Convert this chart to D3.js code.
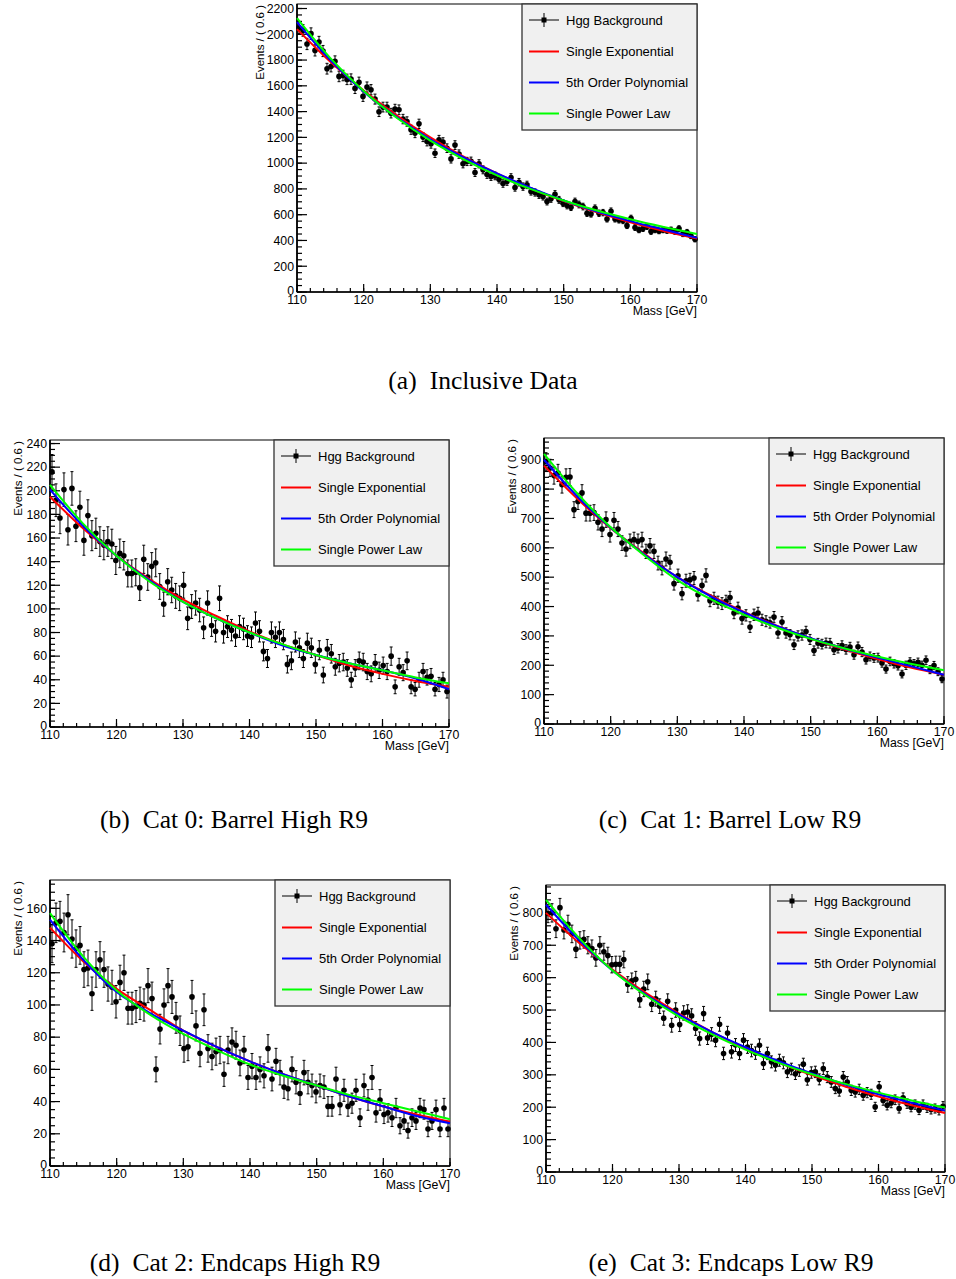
<!DOCTYPE html>
<html>
<head>
<meta charset="utf-8">
<script src="https://cdn.jsdelivr.net/npm/d3@7/dist/d3.min.js"></script>
<style>
  body { margin: 0; background: #fff; }
  svg { display: block; }
  .sans { font-family: 'Liberation Sans', Arial, Helvetica, sans-serif; fill: #000; }
  .serif { font-family: 'Liberation Serif', 'Times New Roman', serif; fill: #000; }
</style>
</head>
<body>
<div id="chart"></div>
<script>
// binning of the diphoton mass histograms
const MASS_MIN = 110;
const MASS_MAX = 170;
const BIN_WIDTH = 0.6;

const legend_labels = ['Hgg Background', 'Single Exponential', '5th Order Polynomial', 'Single Power Law'];
const fit_colors = ['#ff0000', '#0000ff', '#00ff00'];

const fit_mass = [110, 115, 120, 125, 130, 135, 140, 145, 150, 155, 160, 165, 170];

// (a) inclusive
const incl_events = [
  2050, 2030, 1925, 2005, 1875, 1940, 1870, 1733, 1750, 1790,
  1673, 1680, 1650, 1652, 1580, 1627, 1518, 1590, 1570, 1497,
  1399, 1435, 1435, 1388, 1419, 1414, 1342, 1323, 1259, 1233,
  1305, 1202, 1168, 1150, 1077, 1181, 1163, 1116, 1033, 1140,
  1070, 995, 1013, 1015, 927, 995, 948, 912, 896, 901,
  875, 842, 857, 888, 811, 852, 818, 831, 780, 772,
  754, 741, 702, 723, 759, 715, 689, 671, 658, 702,
  679, 663, 611, 606, 650, 611, 616, 567, 627, 567,
  559, 554, 515, 572, 500, 482, 492, 508, 469, 482,
  474, 482, 477, 482, 469, 492, 451, 464, 435, 409
];
const incl_exp = [2040, 1786, 1564, 1370, 1200, 1050, 920, 805, 705, 618, 541, 474, 415];
const incl_poly = [2095, 1800, 1555, 1355, 1185, 1045, 920, 810, 710, 625, 550, 485, 420];
const incl_pow = [2125, 1815, 1560, 1350, 1175, 1030, 905, 800, 710, 632, 565, 505, 450];

// (b) cat 0
const cat0_events = [
  216, 192, 177, 201, 167, 202, 170, 186, 158, 179,
  162, 164, 157, 154, 157, 155, 141, 147, 145, 130,
  130, 131, 118, 142, 127, 136, 139, 119, 104, 123,
  116, 111, 109, 120, 92, 102, 105, 99, 84, 105,
  86, 81, 109, 80, 85, 82, 77, 85, 83, 77,
  76, 88, 81, 64, 58, 80, 76, 80, 74, 53,
  56, 72, 67, 58, 71, 67, 53, 65, 44, 66,
  62, 51, 54, 55, 50, 40, 50, 56, 55, 47,
  45, 54, 48, 52, 47, 60, 34, 51, 46, 56,
  34, 32, 40, 47, 42, 43, 32, 36, 40, 30
];
const cat0_exp = [195, 168, 145, 125, 108, 94, 81, 70, 61, 52, 45, 39, 34];
const cat0_poly = [201, 170, 145, 124, 106, 92, 80, 69, 61, 54, 48, 41, 32];
const cat0_pow = [205, 172, 145, 123, 106, 92, 80, 70, 61, 54, 48, 42, 37];

// (c) cat 1
const cat1_events = [
  894, 872, 846, 855, 815, 840, 841, 730, 758, 787,
  718, 718, 720, 687, 664, 696, 645, 694, 664, 616,
  596, 622, 628, 622, 628, 588, 607, 588, 548, 531,
  562, 551, 478, 505, 444, 488, 491, 497, 440, 472,
  506, 420, 428, 415, 410, 418, 431, 378, 395, 359,
  370, 330, 372, 378, 355, 350, 345, 364, 310, 347,
  310, 304, 270, 300, 303, 315, 288, 250, 275, 272,
  276, 275, 253, 258, 267, 254, 262, 236, 263, 245,
  219, 230, 225, 226, 208, 187, 213, 205, 198, 170,
  200, 211, 205, 210, 200, 217, 185, 199, 178, 153
];
const cat1_exp = [880, 767, 667, 581, 500, 438, 382, 334, 291, 254, 221, 192, 168];
const cat1_poly = [900, 775, 668, 578, 500, 435, 380, 333, 292, 257, 226, 197, 168];
const cat1_pow = [920, 785, 670, 575, 490, 425, 372, 328, 290, 258, 230, 205, 183];

// (d) cat 2
const cat2_events = [
  138, 151, 152, 145, 156, 141, 135, 137, 122, 123,
  107, 122, 128, 122, 113, 111, 102, 114, 120, 98,
  98, 99, 101, 100, 112, 104, 60, 85, 100, 112,
  105, 92, 84, 73, 74, 105, 87, 70, 97, 73,
  68, 71, 72, 57, 72, 77, 75, 64, 72, 55,
  62, 55, 60, 56, 73, 54, 65, 58, 49, 48,
  60, 52, 45, 58, 52, 50, 46, 50, 49, 37,
  37, 54, 38, 47, 37, 39, 47, 30, 50, 41,
  55, 33, 41, 32, 33, 30, 36, 25, 28, 22,
  30, 28, 36, 35, 23, 28, 35, 23, 36, 23
];
const cat2_exp = [148, 127, 110, 97, 84, 74, 65, 57, 50, 43, 37, 32, 27.5];
const cat2_poly = [153, 128, 108, 95, 84, 74, 65, 57, 50, 43, 37, 31, 26.5];
const cat2_pow = [157, 130, 109, 94, 82, 72, 63, 56, 50, 44, 39, 34, 29];

// (e) cat 3
const cat3_events = [
  798, 800, 751, 816, 747, 765, 735, 688, 715, 718,
  700, 690, 661, 700, 680, 668, 640, 641, 641, 656,
  579, 590, 595, 532, 565, 587, 518, 535, 512, 475,
  527, 453, 500, 455, 491, 494, 482, 443, 412, 489,
  414, 425, 407, 456, 366, 429, 371, 392, 366, 407,
  386, 375, 367, 391, 335, 366, 340, 330, 345, 337,
  309, 318, 303, 313, 333, 285, 307, 309, 286, 319,
  293, 278, 258, 250, 293, 278, 252, 247, 255, 237,
  245, 240, 201, 263, 221, 206, 213, 223, 196, 229,
  211, 200, 208, 191, 208, 198, 193, 196, 190, 203
];
const cat3_exp = [800, 707, 625, 553, 489, 432, 382, 338, 299, 264, 233, 206, 182];
const cat3_poly = [825, 715, 622, 548, 486, 432, 385, 342, 304, 270, 240, 214, 190];
const cat3_pow = [840, 722, 622, 545, 480, 425, 378, 337, 302, 272, 245, 221, 199];

// panel layout (pixel boxes of each frame) + axis settings
const panels = [
  { tag: '(a)', title: 'Inclusive Data', events: incl_events, fits: [incl_exp, incl_poly, incl_pow],
    y_max: 2235, y_major: 200, y_minor: 50,
    left: 297, right: 697, top: 4, bottom: 292, ytitle_x: 264, cap_x: 483, cap_y: 389 },
  { tag: '(b)', title: 'Cat 0: Barrel High R9', events: cat0_events, fits: [cat0_exp, cat0_poly, cat0_pow],
    y_max: 243, y_major: 20, y_minor: 5,
    left: 50, right: 449, top: 440, bottom: 727, ytitle_x: 22, cap_x: 234, cap_y: 828 },
  { tag: '(c)', title: 'Cat 1: Barrel Low R9', events: cat1_events, fits: [cat1_exp, cat1_poly, cat1_pow],
    y_max: 974, y_major: 100, y_minor: 20,
    left: 544, right: 944, top: 438, bottom: 724, ytitle_x: 516, cap_x: 730, cap_y: 828 },
  { tag: '(d)', title: 'Cat 2: Endcaps High R9', events: cat2_events, fits: [cat2_exp, cat2_poly, cat2_pow],
    y_max: 177.6, y_major: 20, y_minor: 5,
    left: 50, right: 450, top: 880, bottom: 1166, ytitle_x: 22, cap_x: 235, cap_y: 1271 },
  { tag: '(e)', title: 'Cat 3: Endcaps Low R9', events: cat3_events, fits: [cat3_exp, cat3_poly, cat3_pow],
    y_max: 886, y_major: 100, y_minor: 20,
    left: 546, right: 945, top: 885, bottom: 1172, ytitle_x: 518, cap_x: 731, cap_y: 1271 }
];

const svg = d3.select('#chart')
  .append('svg')
  .attr('width', 956)
  .attr('height', 1279);

svg.append('rect').attr('width', 956).attr('height', 1279).attr('fill', '#fff');

function draw_panel (p) {
  const g = svg.append('g');
  const x = d3.scaleLinear().domain([MASS_MIN, MASS_MAX]).range([p.left, p.right]);
  const y = d3.scaleLinear().domain([0, p.y_max]).range([p.bottom, p.top]);

  // frame
  g.append('rect')
    .attr('x', p.left).attr('y', p.top)
    .attr('width', p.right - p.left).attr('height', p.bottom - p.top)
    .attr('fill', 'none').attr('stroke', '#000').attr('stroke-width', 1);

  // y ticks (inward, ROOT style)
  const y_minor = d3.range(0, p.y_max, p.y_minor);
  const y_major = d3.range(0, p.y_max + 1e-6, p.y_major);
  g.selectAll('.y-minor').data(y_minor).join('line')
    .attr('x1', p.left).attr('x2', p.left + 5)
    .attr('y1', d => y(d)).attr('y2', d => y(d))
    .attr('stroke', '#000').attr('stroke-width', 1.2);
  g.selectAll('.y-major').data(y_major).join('line')
    .attr('x1', p.left).attr('x2', p.left + 10)
    .attr('y1', d => y(d)).attr('y2', d => y(d))
    .attr('stroke', '#000').attr('stroke-width', 1.2);
  g.selectAll('.y-label').data(y_major).join('text')
    .attr('class', 'sans')
    .attr('x', p.left - 3)
    .attr('y', d => y(d) - (d === 0 ? 1 : 0))
    .attr('dy', '0.35em')
    .attr('text-anchor', 'end')
    .style('font-size', '12.3px')
    .text(d => d);

  // x ticks
  const x_minor = d3.range(MASS_MIN, MASS_MAX + 1e-6, 2);
  const x_major = d3.range(MASS_MIN, MASS_MAX + 1e-6, 10);
  g.selectAll('.x-minor').data(x_minor).join('line')
    .attr('x1', d => x(d)).attr('x2', d => x(d))
    .attr('y1', p.bottom).attr('y2', p.bottom - 4)
    .attr('stroke', '#000').attr('stroke-width', 1.2);
  g.selectAll('.x-major').data(x_major).join('line')
    .attr('x1', d => x(d)).attr('x2', d => x(d))
    .attr('y1', p.bottom).attr('y2', p.bottom - 8)
    .attr('stroke', '#000').attr('stroke-width', 1.2);
  g.selectAll('.x-label').data(x_major).join('text')
    .attr('class', 'sans')
    .attr('x', d => x(d))
    .attr('y', p.bottom + 11.5)
    .attr('text-anchor', 'middle')
    .style('font-size', '12.3px')
    .text(d => d);

  // axis lines
  g.append('line')
    .attr('x1', p.left).attr('x2', p.left).attr('y1', p.top).attr('y2', p.bottom)
    .attr('stroke', '#000').attr('stroke-width', 1.7);
  g.append('line')
    .attr('x1', p.left).attr('x2', p.right).attr('y1', p.bottom).attr('y2', p.bottom)
    .attr('stroke', '#000').attr('stroke-width', 1.7);

  // axis titles
  g.append('text')
    .attr('class', 'sans')
    .attr('x', p.right).attr('y', p.bottom + 23)
    .attr('text-anchor', 'end')
    .style('font-size', '12.3px')
    .text('Mass [GeV]');
  g.append('text')
    .attr('class', 'sans')
    .attr('transform', `translate(${p.ytitle_x}, ${p.top + 1}) rotate(-90)`)
    .attr('text-anchor', 'end')
    .style('font-size', '11.5px')
    .text('Events / ( 0.6 )');

  // data points with error bars
  const bins = p.events.map((v, i) => ({
    m: MASS_MIN + BIN_WIDTH * (i + 0.5),
    v: v,
    err: Math.sqrt(v)
  }));
  const pts = g.append('g');
  pts.selectAll('.ebar').data(bins).join('line')
    .attr('x1', d => x(d.m)).attr('x2', d => x(d.m))
    .attr('y1', d => y(d.v - d.err)).attr('y2', d => y(d.v + d.err))
    .attr('stroke', '#000').attr('stroke-width', 1);
  pts.selectAll('.cap-hi').data(bins).join('line')
    .attr('x1', d => x(d.m) - 1.5).attr('x2', d => x(d.m) + 1.5)
    .attr('y1', d => y(d.v + d.err)).attr('y2', d => y(d.v + d.err))
    .attr('stroke', '#000').attr('stroke-width', 1);
  pts.selectAll('.cap-lo').data(bins).join('line')
    .attr('x1', d => x(d.m) - 1.5).attr('x2', d => x(d.m) + 1.5)
    .attr('y1', d => y(d.v - d.err)).attr('y2', d => y(d.v - d.err))
    .attr('stroke', '#000').attr('stroke-width', 1);
  pts.selectAll('.xbar').data(bins).join('line')
    .attr('x1', d => x(d.m - BIN_WIDTH / 2)).attr('x2', d => x(d.m + BIN_WIDTH / 2))
    .attr('y1', d => y(d.v)).attr('y2', d => y(d.v))
    .attr('stroke', '#000').attr('stroke-width', 1);
  pts.selectAll('circle').data(bins).join('circle')
    .attr('cx', d => x(d.m)).attr('cy', d => y(d.v))
    .attr('r', 2.8)
    .attr('fill', '#000');

  // fitted curves
  const line = d3.line()
    .x(d => x(d[0]))
    .y(d => y(d[1]))
    .curve(d3.curveMonotoneX);
  p.fits.forEach((fit, k) => {
    g.append('path')
      .datum(fit_mass.map((m, i) => [m, fit[i]]))
      .attr('d', line)
      .attr('fill', 'none')
      .attr('stroke', fit_colors[k])
      .attr('stroke-width', 2);
  });

  // hand-made legend
  const lw = 175, lh = 126;
  const lx = p.right - lw, ly = p.top;
  g.append('rect')
    .attr('x', lx).attr('y', ly).attr('width', lw).attr('height', lh)
    .attr('fill', '#f0f0f0').attr('stroke', '#333').attr('stroke-width', 1.3);
  const row_y = [16, 47.5, 78.5, 109.5];
  for (let i = 0; i < legend_labels.length; i++) {
    const cy = ly + row_y[i];
    if (i === 0) {
      g.append('line')
        .attr('x1', lx + 7).attr('x2', lx + 37).attr('y1', cy).attr('y2', cy)
        .attr('stroke', '#000').attr('stroke-width', 1);
      g.append('line')
        .attr('x1', lx + 22).attr('x2', lx + 22).attr('y1', cy - 7).attr('y2', cy + 7)
        .attr('stroke', '#000').attr('stroke-width', 1);
      g.append('rect')
        .attr('x', lx + 19.5).attr('y', cy - 2.5).attr('width', 5).attr('height', 5)
        .attr('fill', '#000');
    } else {
      g.append('line')
        .attr('x1', lx + 7).attr('x2', lx + 37).attr('y1', cy).attr('y2', cy)
        .attr('stroke', fit_colors[i - 1]).attr('stroke-width', 2);
    }
    g.append('text')
      .attr('class', 'sans')
      .attr('x', lx + 44).attr('y', cy)
      .attr('dy', '0.35em')
      .style('font-size', '13px')
      .text(legend_labels[i]);
  }

  // sub-figure caption
  const cap = svg.append('text')
    .attr('class', 'serif')
    .attr('x', p.cap_x).attr('y', p.cap_y)
    .attr('text-anchor', 'middle')
    .style('font-size', '25.5px');
  cap.append('tspan').text(p.tag);
  cap.append('tspan').attr('dx', 13).text(p.title);
}

panels.forEach(draw_panel);
</script>
</body>
</html>
